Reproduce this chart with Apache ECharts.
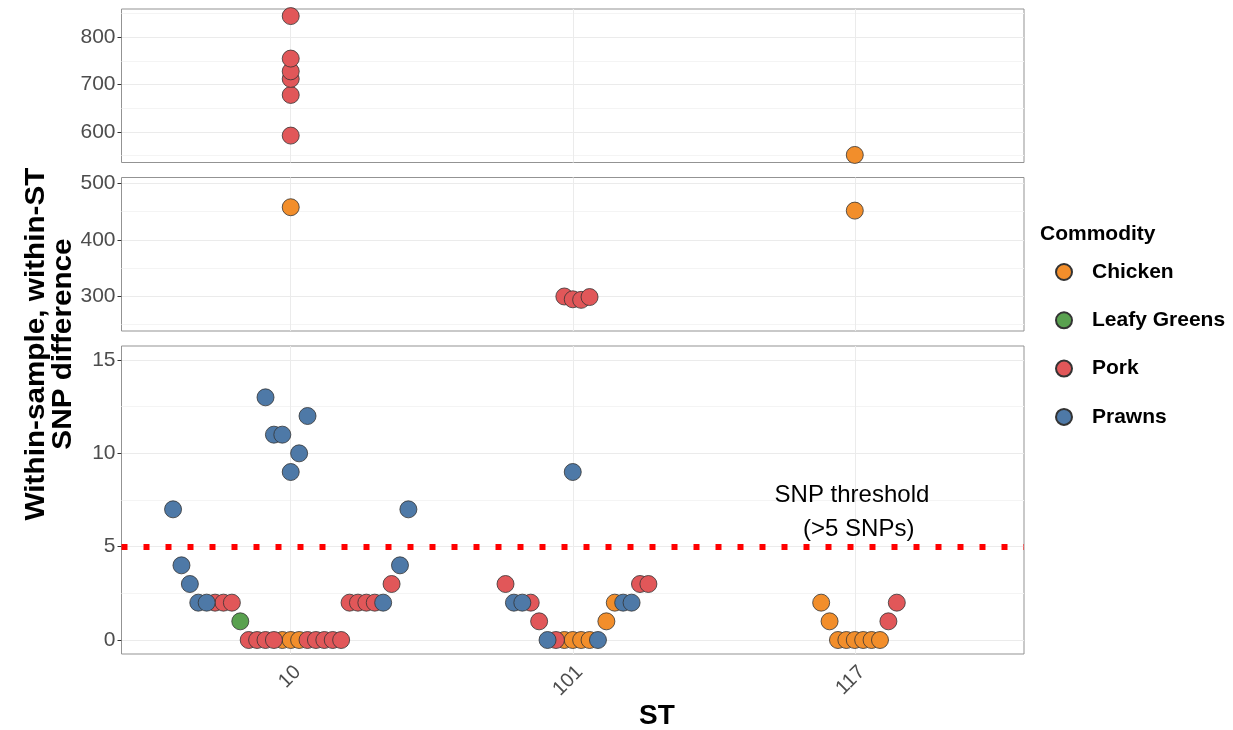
<!DOCTYPE html>
<html>
<head>
<meta charset="utf-8">
<title>Within-sample, within-ST SNP difference</title>
<script src="https://cdn.jsdelivr.net/npm/echarts@6.0.0/dist/echarts.min.js"></script>
<style>
  html, body { margin: 0; padding: 0; background: #fff; }
  #container { width: 1233px; height: 730px; }
</style>
</head>
<body>
<div id="container"></div>
<script type="text/javascript">
// ST categories on the x axis
var stList = ['10', '101', '117'];
var commodities = ['Chicken', 'Leafy Greens', 'Pork', 'Prawns'];
var colors = ['#F28E2B', '#59A14F', '#E15759', '#4E79A7'];

// every point: [ST, beeswarm slot, SNP difference]
var chicken = [
    ['10', -1, 0], ['10', 0, 0], ['10', 1, 0], ['10', 0, 458],
    ['101', -1, 0], ['101', 0, 0], ['101', 1, 0], ['101', 2, 0], ['101', 4, 1], ['101', 5, 2],
    ['117', -4, 2], ['117', -3, 1], ['117', -2, 0], ['117', -1, 0], ['117', 0, 0],
    ['117', 1, 0], ['117', 2, 0], ['117', 3, 0], ['117', 0, 452], ['117', 0, 551]
];
var leafyGreens = [
    ['10', -6, 1]
];
var pork = [
    ['10', -9, 2], ['10', -8, 2], ['10', -7, 2], ['10', -5, 0], ['10', -4, 0], ['10', -3, 0], ['10', -2, 0],
    ['10', 2, 0], ['10', 3, 0], ['10', 4, 0], ['10', 5, 0], ['10', 6, 0],
    ['10', 7, 2], ['10', 8, 2], ['10', 9, 2], ['10', 10, 2], ['10', 12, 3],
    ['10', 0, 592], ['10', 0, 678], ['10', 0, 712], ['10', 0, 728], ['10', 0, 755], ['10', 0, 845],
    ['101', -8, 3], ['101', -5, 2], ['101', -4, 1], ['101', -2, 0], ['101', 8, 3], ['101', 9, 3],
    ['101', -1, 299], ['101', 0, 294], ['101', 1, 293], ['101', 2, 298],
    ['117', 4, 1], ['117', 5, 2]
];
var prawns = [
    ['10', -14, 7], ['10', -13, 4], ['10', -12, 3], ['10', -11, 2], ['10', -10, 2],
    ['10', -3, 13], ['10', -2, 11], ['10', -1, 11], ['10', 0, 9], ['10', 1, 10], ['10', 2, 12],
    ['10', 11, 2], ['10', 13, 4], ['10', 14, 7],
    ['101', -7, 2], ['101', -6, 2], ['101', -3, 0], ['101', 3, 0], ['101', 6, 2], ['101', 7, 2], ['101', 0, 9]
];
var pointSets = [chicken, leafyGreens, pork, prawns];

var threshold = 5;

// tick labels of the three facets (top, middle, bottom)
var majorTicks = [[600, 700, 800], [300, 400, 500], [0, 5, 10, 15]];
var minorTicks = [[550, 650, 750, 850], [250, 350, 450], [2.5, 7.5, 12.5]];

var dom = document.getElementById("container");
var myChart = echarts.init(dom);

var FONT = '"Liberation Sans", Arial, Helvetica, sans-serif';
var DODGE = 0.0298;      // beeswarm spacing in x axis units
var yMin = [535, 237.5, -0.75];
var yMax = [860, 511, 15.75];
var gridPos = [
    { top: 9, height: 153.5 },
    { top: 177.5, height: 153.5 },
    { top: 346, height: 308 }
];

function panelOf(v) {
    if (v >= 530) return 0;
    if (v >= 200) return 1;
    return 2;
}

var grids = [], xAxes = [], yAxes = [], series = [];
for (var p = 0; p < 3; p++) {
    grids.push({
        left: 121.5, right: 209, top: gridPos[p].top, height: gridPos[p].height,
        show: true, borderColor: '#939393', borderWidth: 1, backgroundColor: '#fff',
        containLabel: false, outerBoundsMode: 'none'
    });
    var isBottom = (p === 2);
    xAxes.push({
        type: 'value', gridIndex: p, min: 0.4, max: 3.6,
        axisLine: { show: false },
        axisTick: { show: isBottom, customValues: [1, 2, 3], length: 4, lineStyle: { color: '#333' } },
        axisLabel: {
            show: isBottom, customValues: [1, 2, 3], rotate: 45, margin: 8,
            verticalAlign: 'top',
            fontSize: 20, color: '#4d4d4d', fontFamily: FONT,
            formatter: function (v) { return stList[Math.round(v) - 1]; }
        },
        splitLine: { show: true, lineStyle: { color: '#ebebeb', width: 1 } }
    });
    yAxes.push({
        type: 'value', gridIndex: p, min: yMin[p], max: yMax[p], position: 'left',
        axisLine: { show: false },
        axisTick: { show: true, customValues: majorTicks[p], length: 4, lineStyle: { color: '#333' } },
        axisLabel: { customValues: majorTicks[p], fontSize: 21, color: '#4d4d4d', margin: 6, fontFamily: FONT },
        splitLine: { show: true, lineStyle: { color: '#ebebeb', width: 1 } }
    });
    yAxes.push({
        type: 'value', gridIndex: p, min: yMin[p], max: yMax[p], position: 'left',
        axisLine: { show: false },
        axisTick: { show: false, customValues: minorTicks[p] },
        axisLabel: { show: false, customValues: minorTicks[p] },
        splitLine: { show: true, lineStyle: { color: '#f4f4f4', width: 1 } }
    });

    for (var c = 0; c < commodities.length; c++) {
        var data = [];
        var pts = pointSets[c];
        for (var i = 0; i < pts.length; i++) {
            if (panelOf(pts[i][2]) !== p) continue;
            data.push([stList.indexOf(pts[i][0]) + 1 + pts[i][1] * DODGE, pts[i][2]]);
        }
        var s = {
            name: commodities[c],
            type: 'scatter',
            xAxisIndex: p,
            yAxisIndex: p * 2,
            data: data,
            symbol: 'circle',
            symbolSize: 17,
            itemStyle: { color: colors[c], borderColor: '#333', borderWidth: 0.8, opacity: 1 },
            emphasis: { disabled: true }
        };
        if (isBottom && c === 0) {
            s.markLine = {
                silent: true, symbol: ['none', 'none'], animation: false,
                label: { show: false },
                lineStyle: { color: '#ff0000', width: 6, type: [6, 16], opacity: 1 },
                data: [{ yAxis: threshold }]
            };
            s.markPoint = {
                silent: true, symbol: 'circle', symbolSize: 0, animation: false,
                itemStyle: { color: 'transparent' },
                label: {
                    show: true, position: 'inside', fontSize: 24, color: '#000', fontFamily: FONT,
                    formatter: function (q) { return q.name; }
                },
                data: [
                    { name: 'SNP threshold', coord: [2.99, 7.76] },
                    { name: '(>5 SNPs)', coord: [3.014, 5.95] }
                ]
            };
        }
        series.push(s);
    }
}

var option = {
    animation: false,
    backgroundColor: '#fff',
    textStyle: { fontFamily: FONT },
    title: {
        text: 'Commodity', left: 1040, top: 224, padding: 0,
        textStyle: { fontSize: 21, fontWeight: 'bold', color: '#000', fontFamily: FONT }
    },
    legend: {
        orient: 'vertical', left: 1055, top: 260, padding: 0,
        itemWidth: 16, itemHeight: 16, itemGap: 24.3,
        icon: 'circle',
        data: commodities,
        selectedMode: false,
        textStyle: { fontSize: 21, fontWeight: 'bold', color: '#000', fontFamily: FONT, lineHeight: 24, padding: [0, 0, 0, 15] }
    },
    grid: grids,
    xAxis: xAxes,
    yAxis: yAxes,
    series: series,
    graphic: [
        {
            type: 'text', x: 50, y: 344, rotation: Math.PI / 2, scaleX: 1.1, silent: true,
            style: {
                text: 'Within-sample, within-ST\nSNP difference',
                fontSize: 27, fontWeight: 'bold', fontFamily: FONT, lineHeight: 27,
                fill: '#000', align: 'center', verticalAlign: 'middle'
            }
        },
        {
            type: 'text', x: 657, y: 716, silent: true,
            style: {
                text: 'ST', fontSize: 28, fontWeight: 'bold', fontFamily: FONT,
                fill: '#000', align: 'center', verticalAlign: 'middle'
            }
        }
    ]
};

myChart.setOption(option);
</script>
</body>
</html>
